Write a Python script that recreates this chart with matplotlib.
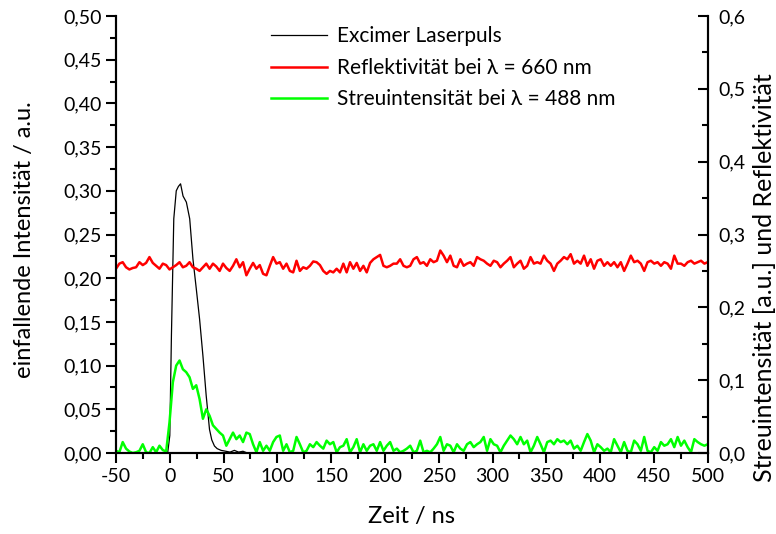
import numpy as np
import matplotlib
matplotlib.use("Agg")
import matplotlib.pyplot as plt
from matplotlib.ticker import MultipleLocator, FuncFormatter

plt.rcParams['font.family'] = ['Lato', 'DejaVu Sans']
plt.rcParams['axes.unicode_minus'] = False

# Excimer laser pulse (left axis), sampled at irregular times in ns
laser_t = [-50, -2, 0, 1.5, 3.7, 6, 8, 10, 12.3, 15.4, 18.5, 21.5, 24.6, 27.7,
           30.8, 33.8, 36.9, 39, 41.5, 44, 47.7, 52, 56, 60, 64, 68, 72, 80, 500]
laser_v = [0, 0, 0.02, 0.134, 0.268, 0.300, 0.305, 0.308, 0.294, 0.287, 0.268,
           0.222, 0.188, 0.153, 0.111, 0.066, 0.027, 0.015, 0.008, 0.005, 0.003,
           0.002, 0.001, 0.003, 0.001, 0.002, 0.0, 0.0, 0.0]

# reflectivity at 660 nm (right axis), equally spaced from -50 to 500 ns
reflect = [
    0.253, 0.260, 0.262, 0.255, 0.252, 0.254, 0.255, 0.262, 0.258, 0.261,
    0.269, 0.261, 0.257, 0.253, 0.260, 0.258, 0.252, 0.255, 0.258, 0.262,
    0.255, 0.257, 0.262, 0.255, 0.253, 0.250, 0.255, 0.260, 0.253, 0.260,
    0.256, 0.250, 0.260, 0.254, 0.250, 0.257, 0.266, 0.255, 0.262, 0.244,
    0.253, 0.261, 0.253, 0.258, 0.246, 0.244, 0.257, 0.269, 0.260, 0.262,
    0.253, 0.260, 0.250, 0.248, 0.264, 0.250,
    0.255, 0.253, 0.257, 0.263, 0.262, 0.258, 0.250, 0.246, 0.250, 0.248,
    0.253, 0.248, 0.260, 0.248, 0.262, 0.253, 0.261, 0.250, 0.257, 0.248,
    0.261, 0.266, 0.269, 0.272, 0.257, 0.255, 0.257, 0.260, 0.260, 0.266,
    0.257, 0.255, 0.257, 0.266, 0.269, 0.260, 0.262, 0.257, 0.266, 0.262,
    0.264, 0.278, 0.271, 0.262, 0.271, 0.257, 0.255, 0.266, 0.257, 0.260,
    0.262, 0.257, 0.269, 0.266, 0.264, 0.260, 0.257, 0.264, 0.262, 0.255,
    0.260, 0.264, 0.269,
    0.255, 0.260, 0.264, 0.253, 0.257, 0.269, 0.260, 0.262, 0.260, 0.271,
    0.264, 0.260, 0.250, 0.260, 0.264, 0.269, 0.266, 0.273, 0.260, 0.264,
    0.260, 0.271, 0.257, 0.266, 0.253, 0.264, 0.266, 0.257, 0.262, 0.257,
    0.262, 0.255, 0.262, 0.250, 0.260, 0.271, 0.262, 0.264, 0.260, 0.250,
    0.262, 0.264, 0.260, 0.262, 0.257, 0.262, 0.260, 0.253, 0.271, 0.260,
    0.260, 0.257, 0.262, 0.264, 0.260, 0.262, 0.264, 0.260, 0.262,
]

# scattered intensity at 488 nm (right axis), same time grid as reflectivity
scatter = [
    0.003, 0.001, 0.015, 0.006, 0.002, 0.000, 0.001, 0.003, 0.012, 0.001,
    0.000, 0.008, 0.001, 0.010, 0.004, 0.002,
    0.042, 0.097, 0.120, 0.127, 0.115, 0.111, 0.104, 0.088, 0.093, 0.074,
    0.047, 0.060, 0.051, 0.038, 0.033, 0.028, 0.024, 0.010, 0.019, 0.028,
    0.019, 0.024, 0.015, 0.028,
    0.026, 0.012, 0.001, 0.015, 0.003, 0.010, 0.003, 0.015, 0.022, 0.024,
    0.003, 0.012, 0.001, 0.003, 0.022, 0.012, 0.001, 0.003, 0.012, 0.008,
    0.015, 0.010, 0.006, 0.017, 0.012, 0.015, 0.001, 0.008, 0.010, 0.019,
    0.001, 0.008, 0.019, 0.001, 0.012, 0.003, 0.010, 0.012, 0.003, 0.015,
    0.003, 0.010, 0.015, 0.003, 0.006, 0.001, 0.003, 0.006, 0.010, 0.001,
    0.003, 0.017, 0.001, 0.003, 0.001, 0.006, 0.012, 0.022, 0.003, 0.012,
    0.010, 0.001, 0.012, 0.006, 0.003, 0.012, 0.015, 0.008, 0.012, 0.015,
    0.022, 0.003, 0.019, 0.012, 0.010, 0.001, 0.010, 0.017, 0.024, 0.019,
    0.012, 0.022, 0.012, 0.017, 0.001, 0.010, 0.022, 0.012, 0.001, 0.015,
    0.017, 0.012, 0.019, 0.015, 0.017, 0.012, 0.017, 0.006, 0.010, 0.003,
    0.015, 0.026, 0.017, 0.001, 0.012, 0.008, 0.003, 0.006, 0.001, 0.019,
    0.010, 0.001, 0.015, 0.003, 0.001, 0.017, 0.012, 0.003, 0.022, 0.003,
    0.001, 0.008, 0.003, 0.015, 0.010, 0.012, 0.019, 0.008, 0.022, 0.010,
    0.017, 0.008, 0.001, 0.019, 0.015, 0.012, 0.010, 0.012,
]

t_grid = np.linspace(-50, 500, len(reflect))
t_scat = np.linspace(-50, 500, len(scatter))


def comma(fmt):
    return FuncFormatter(lambda v, pos: format(v, fmt).replace('.', ','))


W, H = 776, 534
fig = plt.figure(figsize=(W / 100, H / 100), dpi=100)
ax = fig.add_axes([0.1495, 0.1517, 0.7625, 0.8183])
ax2 = ax.twinx()

l1, = ax.plot(laser_t, laser_v, color='black', lw=0.9, label='Excimer Laserpuls')
l2, = ax2.plot(t_grid, reflect, color='#ff0000', lw=1.8,
               label='Reflektivität bei \u03bb = 660 nm')
l3, = ax2.plot(t_scat, scatter, color='#00ff00', lw=1.8,
               label='Streuintensität bei \u03bb = 488 nm')

ax.set_xlim(-50, 500)
ax.set_ylim(0, 0.5)
ax2.set_ylim(0, 0.6)

for a in (ax, ax2):
    a.spines['top'].set_visible(False)
    for s in a.spines.values():
        s.set_linewidth(1.5)

ax.xaxis.set_major_locator(MultipleLocator(50))
ax.xaxis.set_minor_locator(MultipleLocator(25))
ax.yaxis.set_major_locator(MultipleLocator(0.05))
ax.yaxis.set_minor_locator(MultipleLocator(0.025))
ax.yaxis.set_major_formatter(comma('.2f'))
ax2.yaxis.set_major_locator(MultipleLocator(0.1))
ax2.yaxis.set_minor_locator(MultipleLocator(0.05))
ax2.yaxis.set_major_formatter(comma('.1f'))

ax.tick_params(axis='both', which='major', direction='out', length=7, width=1.5,
               labelsize=14)
ax.tick_params(axis='both', which='minor', direction='out', length=4, width=1.5)
ax2.tick_params(axis='y', which='major', direction='in', length=7, width=1.5,
                labelsize=14, pad=8)
ax2.tick_params(axis='y', which='minor', direction='in', length=4, width=1.5)

# axis titles placed in figure pixels
fig.text(411 / W, 1 - 517 / H, 'Zeit / ns', fontsize=17, ha='center', va='center')
fig.text(25 / W, 1 - 240 / H, 'einfallende Intensität / a.u.', fontsize=17,
         rotation=90, ha='center', va='center')
fig.text(765 / W, 1 - 278 / H, 'Streuintensität [a.u.] und Reflektivität',
         fontsize=18, rotation=90, ha='center', va='center')

ax2.legend(handles=[l1, l2, l3], loc='upper left', bbox_to_anchor=(0.240, 1.005),
           frameon=False, fontsize=15, handlelength=2.7, handletextpad=0.5,
           labelspacing=0.55, borderaxespad=0.2)

fig.savefig('out.png', dpi=100)
